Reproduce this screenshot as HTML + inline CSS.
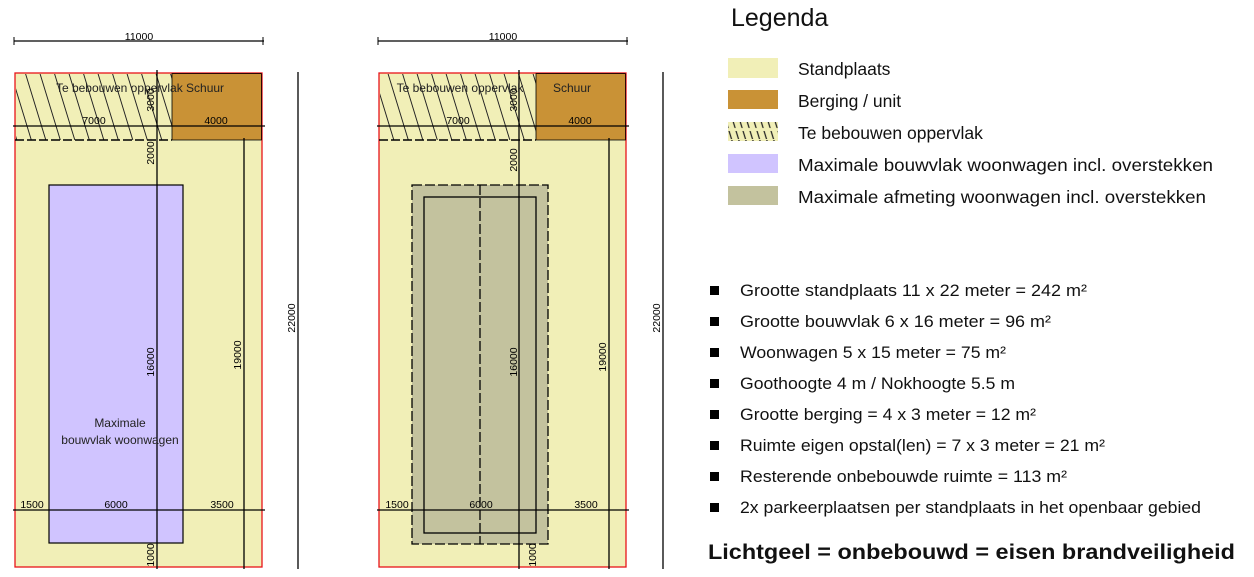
<!DOCTYPE html>
<html><head><meta charset="utf-8"><style>html,body{margin:0;padding:0;background:#fff}svg{display:block}</style></head><body>
<svg width="1254" height="577" viewBox="0 0 1254 577" xmlns="http://www.w3.org/2000/svg" font-family="Liberation Sans, Arial, sans-serif">
<defs>
<pattern id="h" patternUnits="userSpaceOnUse" width="14.5" height="20" patternTransform="skewX(17)">
<line x1="3" y1="0" x2="3" y2="20" stroke="#222" stroke-width="1"/>
</pattern>
<pattern id="h2" patternUnits="userSpaceOnUse" width="7" height="20" patternTransform="skewX(17)">
<line x1="3" y1="0" x2="3" y2="20" stroke="#222" stroke-width="1.3" stroke-dasharray="8 3"/>
</pattern>
</defs>

<!-- LEFT PLAN -->
<g>
<line x1="14" y1="41" x2="264" y2="41" stroke="#000" stroke-width="1.3"/>
<line x1="14" y1="37" x2="14" y2="45" stroke="#000"/><line x1="263" y1="37" x2="263" y2="45" stroke="#000"/>
<text x="139" y="40" font-size="10.5" text-anchor="middle">11000</text>
<rect x="15" y="73" width="247" height="494" fill="#f1efb7" stroke="#e8141a" stroke-width="1.3"/>
<rect x="16" y="74" width="156" height="66" fill="url(#h)"/>
<rect x="172" y="73.6" width="89.4" height="66.4" fill="#c99236" stroke="#000" stroke-width="0.8"/>
<line x1="15" y1="140" x2="172" y2="140" stroke="#000" stroke-width="1.5" stroke-dasharray="9 3"/>
<line x1="13" y1="126" x2="265" y2="126" stroke="#000" stroke-width="1.3"/>
<rect x="49" y="185" width="134" height="358" fill="#d0c4ff" stroke="#000" stroke-width="1.2"/>
<line x1="157" y1="70" x2="157" y2="569" stroke="#000" stroke-width="1.3"/>
<line x1="244" y1="138" x2="244" y2="569" stroke="#000" stroke-width="1.3"/>
<line x1="298" y1="72" x2="298" y2="569" stroke="#000" stroke-width="1.3"/>
<line x1="13" y1="510" x2="265" y2="510" stroke="#000" stroke-width="1.3"/>
<text x="140" y="92" font-size="12" text-anchor="middle" fill="#222">Te bebouwen oppervlak Schuur</text>
<text x="94" y="124" font-size="10.5" text-anchor="middle">7000</text>
<text x="216" y="124" font-size="10.5" text-anchor="middle">4000</text>
<text x="32" y="508" font-size="10.5" text-anchor="middle">1500</text>
<text x="116" y="508" font-size="10.5" text-anchor="middle">6000</text>
<text x="222" y="508" font-size="10.5" text-anchor="middle">3500</text>
<text x="120" y="427" font-size="12" text-anchor="middle" fill="#222">Maximale</text>
<text x="120" y="444" font-size="12" text-anchor="middle" fill="#222">bouwvlak woonwagen</text>
<text transform="translate(154,100) rotate(-90)" font-size="10.5" text-anchor="middle">3000</text>
<text transform="translate(154,153) rotate(-90)" font-size="10.5" text-anchor="middle">2000</text>
<text transform="translate(154,362) rotate(-90)" font-size="10.5" text-anchor="middle">16000</text>
<text transform="translate(154,555) rotate(-90)" font-size="10.5" text-anchor="middle">1000</text>
<text transform="translate(241,355) rotate(-90)" font-size="10.5" text-anchor="middle">19000</text>
<text transform="translate(295,318) rotate(-90)" font-size="10.5" text-anchor="middle">22000</text>
</g>

<!-- RIGHT PLAN -->
<g>
<line x1="378" y1="41" x2="628" y2="41" stroke="#000" stroke-width="1.3"/>
<line x1="378" y1="37" x2="378" y2="45" stroke="#000"/><line x1="627" y1="37" x2="627" y2="45" stroke="#000"/>
<text x="503" y="40" font-size="10.5" text-anchor="middle">11000</text>
<rect x="379" y="73" width="247" height="494" fill="#f1efb7" stroke="#e8141a" stroke-width="1.3"/>
<rect x="380" y="74" width="156" height="66" fill="url(#h)"/>
<rect x="536" y="73.6" width="89.4" height="66.4" fill="#c99236" stroke="#000" stroke-width="0.8"/>
<line x1="379" y1="140" x2="536" y2="140" stroke="#000" stroke-width="1.5" stroke-dasharray="9 3"/>
<line x1="377" y1="126" x2="629" y2="126" stroke="#000" stroke-width="1.3"/>
<rect x="412" y="185" width="136" height="359" fill="#c3c29e" stroke="#000" stroke-width="1.3" stroke-dasharray="10 3"/>
<rect x="424" y="197" width="112" height="336" fill="none" stroke="#000" stroke-width="1.3"/>
<line x1="480" y1="185" x2="480" y2="544" stroke="#000" stroke-width="1.3" stroke-dasharray="10 3"/>
<line x1="519" y1="70" x2="519" y2="569" stroke="#000" stroke-width="1.3"/>
<line x1="609" y1="138" x2="609" y2="569" stroke="#000" stroke-width="1.3"/>
<line x1="663" y1="72" x2="663" y2="569" stroke="#000" stroke-width="1.3"/>
<line x1="377" y1="510" x2="629" y2="510" stroke="#000" stroke-width="1.3"/>
<text x="460" y="92" font-size="12" text-anchor="middle" fill="#222">Te bebouwen oppervlak</text>
<text x="572" y="92" font-size="12" text-anchor="middle" fill="#222">Schuur</text>
<text x="458" y="124" font-size="10.5" text-anchor="middle">7000</text>
<text x="580" y="124" font-size="10.5" text-anchor="middle">4000</text>
<text x="397" y="508" font-size="10.5" text-anchor="middle">1500</text>
<text x="481" y="508" font-size="10.5" text-anchor="middle">6000</text>
<text x="586" y="508" font-size="10.5" text-anchor="middle">3500</text>
<text transform="translate(517,100) rotate(-90)" font-size="10.5" text-anchor="middle">3000</text>
<text transform="translate(517,160) rotate(-90)" font-size="10.5" text-anchor="middle">2000</text>
<text transform="translate(517,362) rotate(-90)" font-size="10.5" text-anchor="middle">16000</text>
<text transform="translate(536,555) rotate(-90)" font-size="10.5" text-anchor="middle">1000</text>
<text transform="translate(606,357) rotate(-90)" font-size="10.5" text-anchor="middle">19000</text>
<text transform="translate(660,318) rotate(-90)" font-size="10.5" text-anchor="middle">22000</text>
</g>

<!-- LEGEND -->
<text x="731" y="26" font-size="25" fill="#111">Legenda</text>
<rect x="728" y="58" width="50" height="20" fill="#f1efb7"/>
<rect x="728" y="90" width="50" height="19" fill="#c99236"/>
<rect x="728" y="122" width="50" height="19" fill="#f1efb7"/>
<rect x="728" y="122" width="50" height="19" fill="url(#h2)"/>
<rect x="728" y="154" width="50" height="19" fill="#d0c4ff"/>
<rect x="728" y="186" width="50" height="19" fill="#c3c29e"/>
<g font-size="17.5" fill="#111">
<text x="798" y="75">Standplaats</text>
<text x="798" y="107">Berging / unit</text>
<text x="798" y="139">Te bebouwen oppervlak</text>
<text x="798" y="171" textLength="415" lengthAdjust="spacingAndGlyphs">Maximale bouwvlak woonwagen incl. overstekken</text>
<text x="798" y="203" textLength="408" lengthAdjust="spacingAndGlyphs">Maximale afmeting woonwagen incl. overstekken</text>
</g>

<g fill="#000">
<rect x="710" y="286" width="9" height="9"/>
<rect x="710" y="317" width="9" height="9"/>
<rect x="710" y="348" width="9" height="9"/>
<rect x="710" y="379" width="9" height="9"/>
<rect x="710" y="410" width="9" height="9"/>
<rect x="710" y="441" width="9" height="9"/>
<rect x="710" y="472" width="9" height="9"/>
<rect x="710" y="503" width="9" height="9"/>
</g>
<g font-size="16.5" fill="#111">
<text x="740" y="296" textLength="347" lengthAdjust="spacingAndGlyphs">Grootte standplaats  11 x 22 meter = 242 m²</text>
<text x="740" y="327" textLength="311" lengthAdjust="spacingAndGlyphs">Grootte bouwvlak  6 x 16 meter = 96 m²</text>
<text x="740" y="358" textLength="266" lengthAdjust="spacingAndGlyphs">Woonwagen 5 x 15 meter = 75 m²</text>
<text x="740" y="389" textLength="275" lengthAdjust="spacingAndGlyphs">Goothoogte 4 m / Nokhoogte 5.5 m</text>
<text x="740" y="420" textLength="296" lengthAdjust="spacingAndGlyphs">Grootte berging = 4 x 3 meter = 12 m²</text>
<text x="740" y="451" textLength="365" lengthAdjust="spacingAndGlyphs">Ruimte eigen opstal(len) = 7 x 3 meter = 21 m²</text>
<text x="740" y="482" textLength="327" lengthAdjust="spacingAndGlyphs">Resterende onbebouwde ruimte = 113 m²</text>
<text x="740" y="513" textLength="461" lengthAdjust="spacingAndGlyphs">2x parkeerplaatsen per standplaats in het openbaar gebied</text>
</g>
<text x="708" y="559" font-size="21" font-weight="bold" fill="#111" textLength="527" lengthAdjust="spacingAndGlyphs">Lichtgeel = onbebouwd = eisen brandveiligheid</text>
</svg>
</body></html>
